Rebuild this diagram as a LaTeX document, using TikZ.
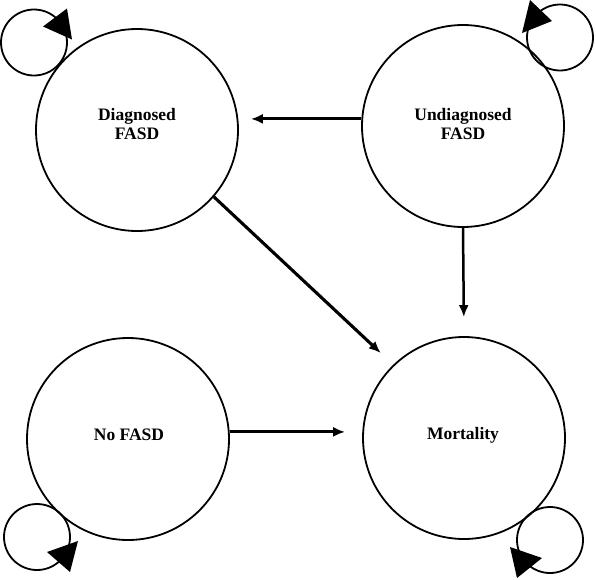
\documentclass[tikz,border=0pt]{standalone}
\usepackage{fontspec}
\setmainfont{Liberation Serif}
\usetikzlibrary{arrows.meta}
\begin{document}
\begin{tikzpicture}[x=1pt,y=-1pt,
  state/.style={circle,draw,line width=1.8pt,minimum size=202pt,inner sep=0pt},
  selfloop/.style={circle,draw,line width=1.8pt,minimum size=66pt,inner sep=0pt},
  lbl/.style={font=\fontsize{17.5}{19.5}\selectfont\bfseries,align=center,inner sep=0pt},
  arr/.style={line width=2.9pt,-{Latex[length=12pt,width=10pt]}},
  loophead/.style={fill=black}]
\useasboundingbox (0,0) rectangle (596,579);
% states
\node[state] (D) at (137,130) {};
\node[state] (U) at (463,126) {};
\node[state] (N) at (128,439) {};
\node[state] (M) at (464,438) {};
% labels
\node[lbl] (Dt) at (137,124) {Diagnosed\\FASD};
\node[lbl] (Ut) at (463,124) {Undiagnosed\\FASD};
\node[lbl] (Nt) at (129,435) {No FASD};
\node[lbl] (Mt) at (463,435) {Mortality};
% transitions
\draw[arr,shorten >=12pt] (U.176.6) -- (U.176.6 -| D.east);
\draw[arr,line width=3.1pt,shorten >=17pt] (D.-41.8) -- (M.134);
\draw[arr,line width=2.5pt,shorten >=19pt] (U.south) -- (M.north);
\draw[arr,shorten >=17pt] (N.4) -- (N.4 -| M.west);
% self loops
\node[selfloop] (lD) at (34,42.5) {};
\node[selfloop] (lU) at (560,37.5) {};
\node[selfloop] (lN) at (37,537) {};
\node[selfloop] (lM) at (550,540) {};
\fill[loophead,shift={(lD)}] (9,-16) -- (33,-34) -- (38,-3) -- cycle;
\fill[loophead,shift={(lU)}] (-30,-37.5) -- (-38,-4.5) -- (-8,-16.5) -- cycle;
\fill[loophead,shift={(lN)}] (10,15) -- (41,4) -- (33,35) -- cycle;
\fill[loophead,shift={(lM)}] (-40,7) -- (-8,18) -- (-33,38) -- cycle;
\end{tikzpicture}
\end{document}
